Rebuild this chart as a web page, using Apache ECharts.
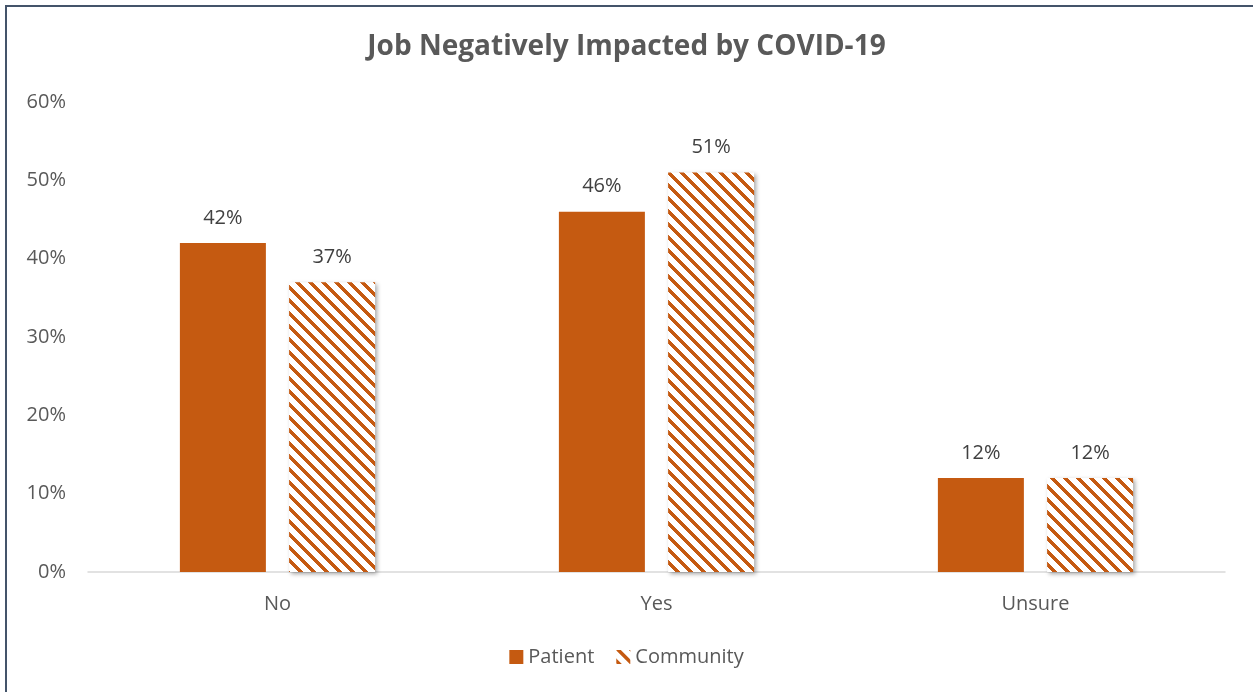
<!DOCTYPE html>
<html>
<head>
<meta charset="utf-8">
<script src="https://cdn.jsdelivr.net/npm/echarts@6/dist/echarts.min.js"></script>
<style>
  html, body { margin: 0; padding: 0; background: #fff; }
  #chart { width: 1253px; height: 692px; }
</style>
</head>
<body>
<div id="chart"></div>
<script>
// Survey answers and share of respondents in each group
const categories = ['No', 'Yes', 'Unsure'];
const patientValues = [42, 46, 12];
const communityValues = [37, 51, 12];
const yTicks = [0, 10, 20, 30, 40, 50, 60];

const ORANGE = '#C55A11';
const FONT = '"Open Sans", "Liberation Sans", sans-serif';

// Diagonal stripe fill ("\" direction) used for the Community bars
function makeStripePattern() {
  const P = 13, W = 5;
  const c = document.createElement('canvas');
  c.width = P; c.height = P;
  const ctx = c.getContext('2d');
  const img = ctx.createImageData(P, P);
  for (let y = 0; y < P; y++) {
    for (let x = 0; x < P; x++) {
      const i = (y * P + x) * 4;
      const on = (((x - y) % P) + P) % P < W;
      img.data[i] = on ? 0xC5 : 255;
      img.data[i + 1] = on ? 0x5A : 255;
      img.data[i + 2] = on ? 0x11 : 255;
      img.data[i + 3] = 255;
    }
  }
  ctx.putImageData(img, 0, 0);
  return c;
}
const stripe = { image: makeStripePattern(), repeat: 'repeat' };

const chart = echarts.init(document.getElementById('chart'), null, { renderer: 'canvas' });

const labelStyle = {
  show: true,
  position: 'top',
  distance: 15,
  color: '#404040',
  fontFamily: FONT,
  fontSize: 20,
  formatter: p => p.value + '%'
};

chart.setOption({
  animation: false,
  backgroundColor: '#fff',
  title: {
    text: 'Job Negatively Impacted by COVID-19',
    left: 'center',
    top: 28,
    textStyle: { color: '#595959', fontFamily: FONT, fontWeight: 'bold', fontSize: 28 }
  },
  legend: {
    bottom: 20,
    left: 'center',
    itemWidth: 14,
    itemHeight: 14,
    itemGap: 22,
    icon: 'rect',
    textStyle: { color: '#595959', fontFamily: FONT, fontSize: 20 },
    data: ['Patient', 'Community']
  },
  grid: { left: 88, right: 28, top: 102, bottom: 120, containLabel: false },
  xAxis: {
    type: 'category',
    data: categories,
    axisLine: { lineStyle: { color: '#D9D9D9', width: 1.5 } },
    axisTick: { show: false },
    axisLabel: { color: '#595959', fontFamily: FONT, fontSize: 20, margin: 22 }
  },
  yAxis: {
    type: 'value',
    min: yTicks[0],
    max: yTicks[yTicks.length - 1],
    interval: 10,
    axisLine: { show: false },
    axisTick: { show: false },
    splitLine: { show: false },
    axisLabel: { color: '#595959', fontFamily: FONT, fontSize: 20, margin: 22, formatter: v => v + '%' }
  },
  series: [
    {
      name: 'Patient',
      type: 'bar',
      data: patientValues,
      barWidth: 86,
      barGap: '27%',
      itemStyle: { color: ORANGE },
      label: labelStyle
    },
    {
      name: 'Community',
      type: 'bar',
      data: communityValues,
      barWidth: 86,
      itemStyle: {
        color: stripe,
        shadowColor: 'rgba(0,0,0,0.35)',
        shadowBlur: 4,
        shadowOffsetX: 2,
        shadowOffsetY: 2
      },
      label: labelStyle
    }
  ],
  graphic: [
    {
      type: 'rect',
      silent: true,
      z: 100,
      shape: { x: 6, y: 6, width: 1400, height: 900 },
      style: { fill: null, stroke: '#44546A', lineWidth: 2 }
    }
  ]
});
</script>
</body>
</html>
